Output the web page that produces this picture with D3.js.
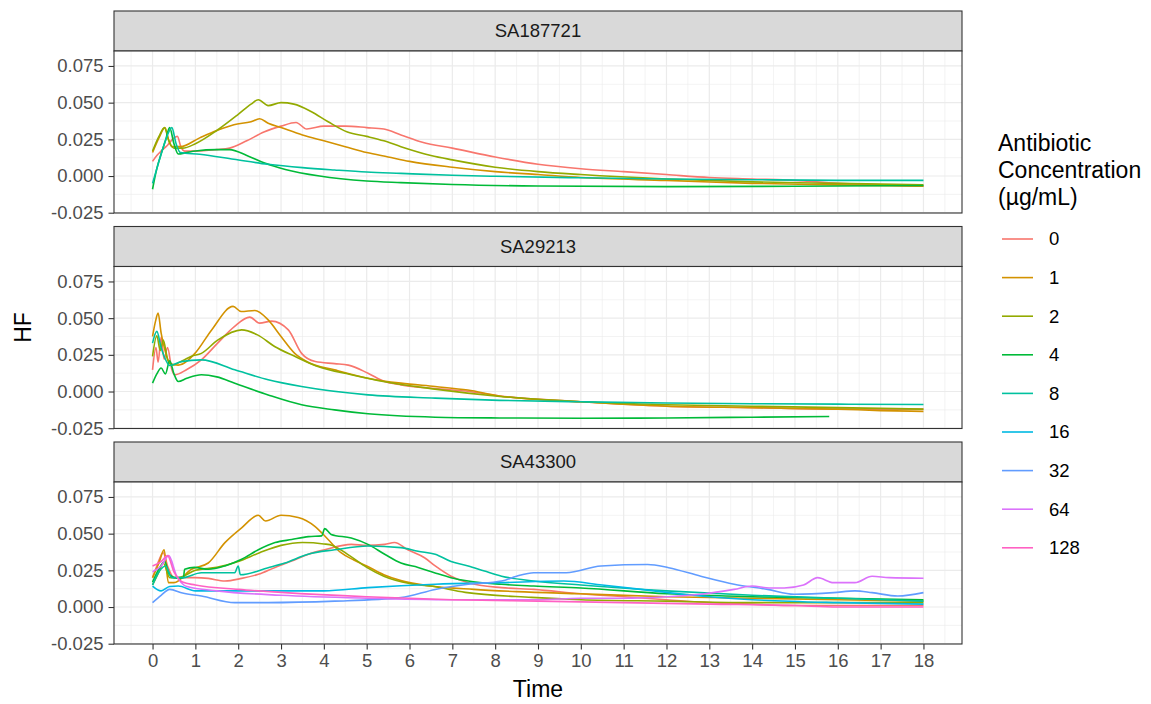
<!DOCTYPE html>
<html>
<head>
<meta charset="utf-8">
<script src="https://cdn.jsdelivr.net/npm/d3@7"></script>
<style>
  body { margin: 0; background: #fff; }
  text { font-family: "Liberation Sans", Arial, sans-serif; }
</style>
</head>
<body>
<div id="chart"></div>
<script>
// categories / ticks
const strains = ["SA187721", "SA29213", "SA43300"];
const concentrations = ["0", "1", "2", "4", "8", "16", "32", "64", "128"];
const concColors = ["#F8766D", "#D39200", "#93AA00", "#00BA38", "#00C19F", "#00B9E3", "#619CFF", "#DB72FB", "#FF61C3"];
const timeTicks = d3.range(0, 19);
const hfTicks = [-0.025, 0, 0.025, 0.05, 0.075];

// SA187721 series, [time, HF]
const sa187721_0 = [[0,0.010],[0.1,0.014],[0.2,0.017],[0.35,0.021],[0.5,0.026],[0.58,0.027],[0.66,0.020],[0.75,0.017],[1.0,0.017],[1.5,0.018],[1.8,0.019],[2.2,0.024],[2.6,0.030],[3.0,0.034],[3.35,0.0365],[3.6,0.032],[4.0,0.034],[4.5,0.034],[5.0,0.033],[5.4,0.032],[5.8,0.028],[6.3,0.023],[7,0.019],[8,0.013],[9,0.008],[10,0.005],[11,0.003],[12,0.001],[13,-0.001],[14,-0.002],[15,-0.003],[16,-0.005],[17,-0.006],[18,-0.007]];
const sa187721_1 = [[0,0.016],[0.15,0.026],[0.29,0.033],[0.37,0.025],[0.45,0.020],[0.65,0.020],[1.1,0.026],[1.5,0.031],[1.9,0.035],[2.3,0.037],[2.5,0.039],[2.7,0.036],[3.0,0.033],[3.5,0.028],[4.0,0.024],[4.5,0.020],[5.0,0.016],[5.5,0.013],[6,0.010],[7,0.006],[8,0.003],[9,0.001],[10,-0.001],[12,-0.003],[14,-0.005],[16,-0.006],[18,-0.007]];
const sa187721_2 = [[0,0.017],[0.15,0.027],[0.28,0.033],[0.38,0.024],[0.5,0.019],[0.7,0.019],[1.0,0.022],[1.5,0.031],[2.0,0.042],[2.3,0.049],[2.47,0.052],[2.7,0.048],[3.0,0.050],[3.3,0.049],[3.7,0.044],[4.1,0.037],[4.55,0.030],[5.0,0.027],[5.4,0.024],[5.8,0.020],[6.5,0.014],[7,0.011],[8,0.006],[9,0.003],[10,0.001],[12,-0.002],[14,-0.004],[16,-0.005],[18,-0.006]];
const sa187721_4 = [[0,-0.009],[0.1,0.005],[0.2,0.015],[0.3,0.024],[0.4,0.033],[0.5,0.022],[0.6,0.015],[0.8,0.016],[1.0,0.017],[1.5,0.018],[1.8,0.018],[2.2,0.014],[2.6,0.009],[3.1,0.0045],[3.9,0.0],[5.0,-0.0034],[5.8,-0.0045],[7,-0.0058],[9,-0.0068],[12,-0.0072],[15,-0.007],[18,-0.0065]];
const sa187721_8 = [[0,-0.005],[0.15,0.010],[0.3,0.024],[0.45,0.033],[0.55,0.022],[0.65,0.016],[1.1,0.0148],[1.9,0.0114],[2.7,0.008],[3.5,0.0057],[4.25,0.0041],[5,0.0027],[5.8,0.0018],[7,0.0005],[8,-0.0002],[10,-0.0012],[12,-0.002],[14,-0.0025],[16,-0.003],[18,-0.003]];

// SA29213 series
const sa29213_0 = [[0,0.0148],[0.08,0.030],[0.13,0.020],[0.2,0.037],[0.27,0.022],[0.35,0.030],[0.45,0.015],[0.52,0.0114],[0.8,0.015],[1.14,0.0216],[1.52,0.033],[1.91,0.0443],[2.27,0.0507],[2.5,0.0466],[2.78,0.048],[3.17,0.042],[3.48,0.026],[3.8,0.0204],[4.25,0.019],[4.57,0.018],[5.03,0.0125],[5.42,0.0068],[5.8,0.0045],[6.6,0.002],[7.4,0.0],[8.1,-0.003],[10,-0.007],[12,-0.010],[14,-0.011],[16,-0.012],[18,-0.012]];
const sa29213_1 = [[0,0.0375],[0.07,0.048],[0.13,0.0534],[0.2,0.040],[0.25,0.033],[0.32,0.025],[0.4,0.0193],[0.6,0.018],[0.99,0.026],[1.38,0.042],[1.88,0.058],[2.07,0.0545],[2.39,0.0552],[2.7,0.0488],[3.0,0.0375],[3.32,0.026],[3.63,0.020],[4.25,0.0148],[5.03,0.0091],[5.8,0.0057],[6.6,0.0034],[7.36,0.001],[8.1,-0.003],[10,-0.007],[12,-0.010],[14,-0.011],[16,-0.012],[17,-0.013],[18,-0.0135]];
const sa29213_2 = [[0,0.024],[0.1,0.038],[0.18,0.028],[0.25,0.035],[0.35,0.022],[0.45,0.018],[0.7,0.021],[0.91,0.024],[1.14,0.026],[1.52,0.035],[2.08,0.042],[2.45,0.0386],[2.85,0.0307],[3.32,0.024],[3.86,0.017],[4.64,0.0114],[5.42,0.0066],[6.5,0.002],[8,-0.003],[10,-0.007],[12,-0.009],[14,-0.010],[16,-0.011],[18,-0.012]];
const sa29213_4 = [[0,0.0057],[0.1,0.012],[0.2,0.016],[0.3,0.012],[0.4,0.021],[0.5,0.012],[0.6,0.0068],[0.8,0.009],[1.14,0.0114],[1.5,0.010],[1.92,0.0057],[2.7,-0.0023],[3.48,-0.009],[4.25,-0.0125],[5.03,-0.0152],[6.6,-0.0175],[8.1,-0.018],[10,-0.0182],[12,-0.018],[14,-0.0175],[15.8,-0.017]];
const sa29213_8 = [[0,0.033],[0.1,0.041],[0.2,0.030],[0.3,0.022],[0.4,0.0177],[0.67,0.0204],[1.14,0.0216],[1.92,0.0148],[2.7,0.008],[3.48,0.0034],[5.03,-0.0023],[6.6,-0.0045],[8.1,-0.006],[10,-0.007],[12,-0.0078],[14,-0.0083],[16,-0.0086],[18,-0.0088]];

// SA43300 series
const sa43300_0 = [[0,0.020],[0.1,0.028],[0.25,0.037],[0.35,0.028],[0.5,0.020],[1.0,0.020],[1.3,0.0195],[1.69,0.0177],[2.08,0.0195],[2.47,0.0223],[2.86,0.027],[3.25,0.0313],[3.64,0.036],[4.02,0.039],[4.64,0.0427],[5.0,0.042],[5.42,0.0427],[5.65,0.044],[5.96,0.039],[6.35,0.0336],[6.6,0.028],[6.97,0.021],[7.37,0.0166],[8.15,0.0132],[8.9,0.012],[10,0.009],[11,0.007],[12,0.005],[13,0.003],[14,0.002],[15,0.001],[16,0.001],[17,0.001],[18,0.001]];
const sa43300_1 = [[0,0.020],[0.15,0.030],[0.27,0.039],[0.37,0.0166],[0.5,0.0166],[0.91,0.0257],[1.3,0.030],[1.69,0.0439],[2.08,0.054],[2.47,0.0625],[2.64,0.0586],[3.0,0.0625],[3.4,0.061],[3.79,0.055],[4.1,0.046],[4.4,0.037],[4.7,0.032],[5.0,0.028],[5.4,0.022],[5.8,0.018],[6.5,0.0143],[7.5,0.012],[8.5,0.0105],[10,0.009],[12,0.007],[14,0.006],[16,0.005],[18,0.004]];
const sa43300_2 = [[0,0.015],[0.15,0.024],[0.25,0.030],[0.4,0.020],[0.6,0.020],[1.0,0.025],[1.5,0.027],[2.0,0.031],[2.5,0.037],[3.0,0.042],[3.5,0.044],[4.0,0.043],[4.2,0.042],[4.6,0.035],[5.0,0.027],[5.4,0.021],[6.0,0.016],[6.5,0.0143],[7.3,0.010],[8.85,0.0066],[10,0.005],[12,0.004],[14,0.003],[16,0.003],[18,0.003]];
const sa43300_4 = [[0,0.017],[0.15,0.026],[0.28,0.031],[0.4,0.022],[0.6,0.0195],[0.72,0.020],[0.75,0.0257],[0.98,0.027],[1.3,0.0257],[1.69,0.028],[2.08,0.0325],[2.47,0.039],[2.86,0.0439],[3.25,0.046],[3.64,0.048],[3.95,0.0485],[4.02,0.0534],[4.17,0.0495],[4.64,0.047],[5.03,0.0427],[5.42,0.036],[5.8,0.030],[6.2,0.027],[6.58,0.0234],[6.97,0.020],[7.37,0.0177],[8.15,0.0155],[8.9,0.0143],[10,0.013],[12,0.009],[14,0.007],[16,0.006],[18,0.005]];
const sa43300_8 = [[0,0.015],[0.15,0.024],[0.3,0.028],[0.45,0.020],[0.7,0.020],[1.14,0.0234],[1.92,0.0234],[2.0,0.028],[2.05,0.022],[2.7,0.0268],[3.09,0.030],[3.63,0.036],[4.25,0.039],[5.03,0.0416],[5.8,0.0405],[6.2,0.038],[6.6,0.036],[6.97,0.031],[7.37,0.028],[7.75,0.0245],[8.15,0.021],[8.9,0.0177],[10,0.015],[12,0.011],[14,0.008],[16,0.006],[18,0.004]];
const sa43300_16 = [[0,0.0143],[0.2,0.011],[0.4,0.014],[0.6,0.0143],[1.0,0.011],[2,0.011],[3,0.011],[4,0.011],[5.03,0.0132],[6.6,0.0155],[8.15,0.0166],[9.6,0.0177],[10.5,0.015],[12,0.010],[13,0.007],[14,0.005],[16,0.003],[18,0.002]];
const sa43300_32 = [[0,0.003],[0.2,0.008],[0.4,0.012],[0.7,0.0095],[1.14,0.0075],[1.92,0.003],[2.7,0.003],[4.25,0.004],[5.8,0.0064],[6.6,0.012],[7.37,0.0155],[8.15,0.0177],[8.5,0.021],[8.9,0.0234],[9.66,0.0234],[10.47,0.028],[11.56,0.029],[12.05,0.0268],[12.8,0.021],[13.58,0.0155],[14.36,0.012],[14.98,0.0087],[15.9,0.0098],[16.4,0.011],[16.8,0.0098],[17.4,0.0075],[18,0.0098]];
const sa43300_64 = [[0,0.024],[0.2,0.028],[0.38,0.035],[0.55,0.022],[0.8,0.014],[1.5,0.011],[3,0.008],[5,0.006],[7,0.005],[9,0.005],[10,0.006],[11,0.006],[12,0.007],[12.8,0.0087],[13.58,0.012],[14,0.0143],[14.4,0.013],[14.75,0.013],[15.2,0.015],[15.53,0.020],[15.9,0.0166],[16.4,0.0166],[16.8,0.021],[17.2,0.020],[18,0.0196]];
const sa43300_128 = [[0,0.028],[0.2,0.031],[0.35,0.035],[0.5,0.024],[0.7,0.017],[1.0,0.015],[2,0.012],[3,0.010],[5,0.007],[7,0.005],[9,0.004],[11,0.003],[13,0.002],[15,0.001],[16,0.0],[18,0.0]];

const panels = [
  { strain: strains[0], series: { "0": sa187721_0, "1": sa187721_1, "2": sa187721_2, "4": sa187721_4, "8": sa187721_8 } },
  { strain: strains[1], series: { "0": sa29213_0, "1": sa29213_1, "2": sa29213_2, "4": sa29213_4, "8": sa29213_8 } },
  { strain: strains[2], series: { "0": sa43300_0, "1": sa43300_1, "2": sa43300_2, "4": sa43300_4, "8": sa43300_8,
      "16": sa43300_16, "32": sa43300_32, "64": sa43300_64, "128": sa43300_128 } }
];

// layout
const W = 1151, H = 704;
const left = 114, right = 962;
const top0 = 11, stripH = 40, panelH = 162, gap = 13.5;
const smallFont = 18.5, titleFont = 23;

const svg = d3.select('#chart').append('svg')
  .attr('width', W).attr('height', H);

const x = d3.scaleLinear().domain([-0.9, 18.9]).range([left, right]);
const color = d3.scaleOrdinal().domain(concentrations).range(concColors);

const minorX = d3.range(-0.5, 19, 1);
const minorY = [-0.0125, 0.0125, 0.0375, 0.0625];
const fmtHF = d => d3.format('.3f')(d).replace('\u2212', '-');

const line = d3.line()
  .x(d => x(d[0]))
  .y(d => d.y)
  .curve(d3.curveMonotoneX);

panels.forEach((p, i) => {
  const stripTop = top0 + i * (stripH + panelH + gap);
  const pTop = stripTop + stripH;
  const y = d3.scaleLinear().domain([-0.0252, 0.0852]).range([pTop + panelH, pTop]);

  const g = svg.append('g');

  // strip
  g.append('rect')
    .attr('x', left).attr('y', stripTop).attr('width', right - left).attr('height', stripH)
    .attr('fill', '#D9D9D9').attr('stroke', '#333333').attr('stroke-width', 1.1);
  g.append('text')
    .attr('x', (left + right) / 2).attr('y', stripTop + stripH / 2)
    .attr('dy', '0.35em').attr('text-anchor', 'middle')
    .attr('font-size', smallFont).attr('fill', '#1A1A1A')
    .text(p.strain);

  // panel bg + grids
  g.append('rect')
    .attr('x', left).attr('y', pTop).attr('width', right - left).attr('height', panelH)
    .attr('fill', '#fff');
  g.selectAll('.mx').data(minorX).join('line')
    .attr('x1', d => x(d)).attr('x2', d => x(d))
    .attr('y1', pTop).attr('y2', pTop + panelH)
    .attr('stroke', '#EBEBEB').attr('stroke-width', 0.6);
  g.selectAll('.my').data(minorY).join('line')
    .attr('x1', left).attr('x2', right)
    .attr('y1', d => y(d)).attr('y2', d => y(d))
    .attr('stroke', '#EBEBEB').attr('stroke-width', 0.6);
  g.selectAll('.gx').data(timeTicks).join('line')
    .attr('x1', d => x(d)).attr('x2', d => x(d))
    .attr('y1', pTop).attr('y2', pTop + panelH)
    .attr('stroke', '#EBEBEB').attr('stroke-width', 1.2);
  g.selectAll('.gy').data(hfTicks).join('line')
    .attr('x1', left).attr('x2', right)
    .attr('y1', d => y(d)).attr('y2', d => y(d))
    .attr('stroke', '#EBEBEB').attr('stroke-width', 1.2);

  // lines
  const clipId = 'clip' + i;
  svg.append('clipPath').attr('id', clipId).append('rect')
    .attr('x', left).attr('y', pTop).attr('width', right - left).attr('height', panelH);
  const lines = g.append('g').attr('clip-path', `url(#${clipId})`);
  concentrations.filter(c => p.series[c]).forEach(c => {
    const pts = p.series[c].map(d => Object.assign([d[0], d[1]], { y: y(d[1]) }));
    lines.append('path')
      .attr('d', line(pts))
      .attr('fill', 'none')
      .attr('stroke', color(c))
      .attr('stroke-width', 1.6)
      .attr('stroke-linejoin', 'round');
  });

  // border
  g.append('rect')
    .attr('x', left).attr('y', pTop).attr('width', right - left).attr('height', panelH)
    .attr('fill', 'none').attr('stroke', '#333333').attr('stroke-width', 1.1);

  // y axis
  const yAxis = g.append('g')
    .attr('transform', `translate(${left},0)`)
    .call(d3.axisLeft(y).tickValues(hfTicks).tickFormat(fmtHF).tickSize(5.5).tickPadding(5));
  yAxis.select('.domain').remove();
  yAxis.selectAll('line').attr('stroke', '#333333').attr('stroke-width', 1.1);
  yAxis.selectAll('text').attr('font-size', smallFont).attr('fill', '#4D4D4D')
    .attr('font-family', '"Liberation Sans", Arial, sans-serif');

  // x axis on bottom panel
  if (i === panels.length - 1) {
    const xAxis = g.append('g')
      .attr('transform', `translate(0,${pTop + panelH})`)
      .call(d3.axisBottom(x).tickValues(timeTicks).tickSize(5.5).tickPadding(4));
    xAxis.select('.domain').remove();
    xAxis.selectAll('line').attr('stroke', '#333333').attr('stroke-width', 1.1);
    xAxis.selectAll('text').attr('font-size', smallFont).attr('fill', '#4D4D4D')
      .attr('font-family', '"Liberation Sans", Arial, sans-serif');
  }
});

// axis titles
svg.append('text')
  .attr('x', (left + right) / 2).attr('y', 697)
  .attr('text-anchor', 'middle').attr('font-size', titleFont).attr('fill', '#000')
  .text('Time');
svg.append('text')
  .attr('transform', `translate(31,${(top0 + 3 * (stripH + panelH) + 2 * gap + top0) / 2}) rotate(-90)`)
  .attr('text-anchor', 'middle').attr('font-size', titleFont).attr('fill', '#000')
  .text('HF');

// legend
const legend = svg.append('g').attr('transform', 'translate(998,0)');
['Antibiotic', 'Concentration', '(µg/mL)'].forEach((t, k) => {
  legend.append('text')
    .attr('x', 0).attr('y', 151 + k * 27)
    .attr('font-size', titleFont).attr('fill', '#000')
    .text(t);
});
const items = legend.selectAll('.item').data(concentrations).join('g')
  .attr('transform', (d, k) => `translate(0,${239 + k * 38.6})`);
items.append('line')
  .attr('x1', 4).attr('x2', 35).attr('y1', 0).attr('y2', 0)
  .attr('stroke', d => color(d)).attr('stroke-width', 1.6);
items.append('text')
  .attr('x', 51).attr('y', 0).attr('dy', '0.35em')
  .attr('font-size', smallFont).attr('fill', '#000')
  .text(d => d);
</script>
</body>
</html>
